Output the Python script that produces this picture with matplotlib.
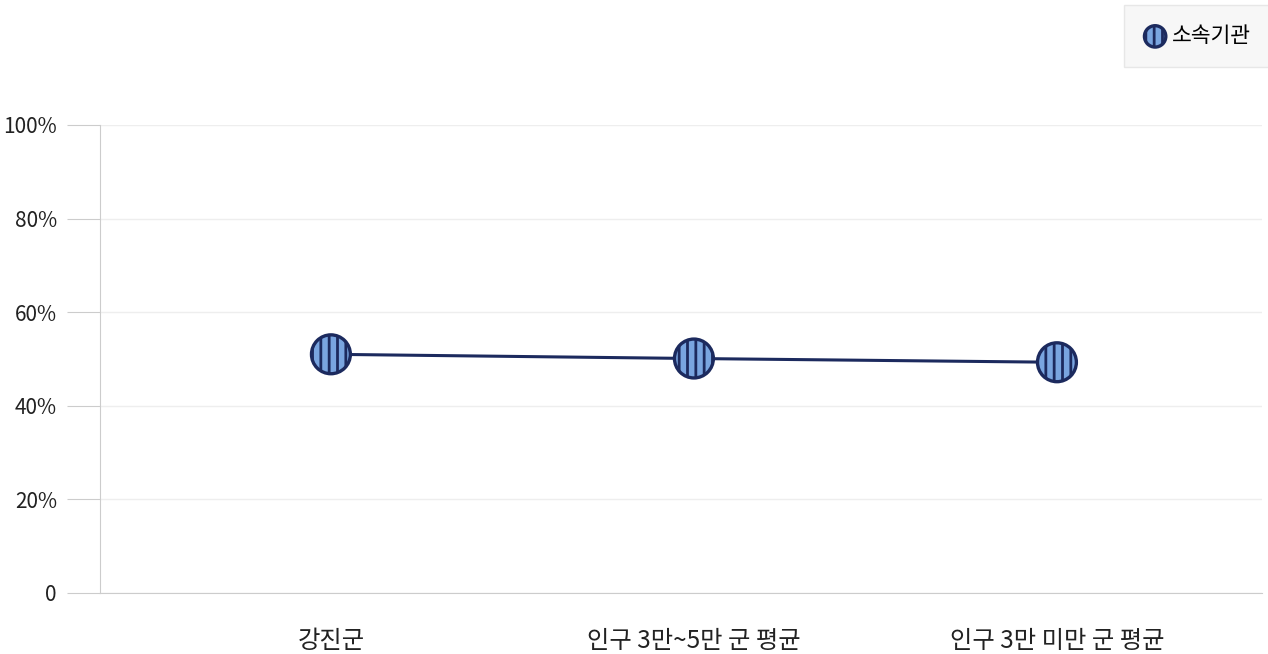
import matplotlib
matplotlib.use("Agg")
import matplotlib.pyplot as plt
import numpy as np

plt.rcParams['font.family'] = ['Noto Sans CJK KR', 'DejaVu Sans']
plt.rcParams['hatch.linewidth'] = 2.0

categories = ['강진군', '인구 3만~5만 군 평균', '인구 3만 미만 군 평균']
values = [51.0, 50.1, 49.3]
series_name = '소속기관'
y_ticks = [0, 20, 40, 60, 80, 100]
y_labels = ['0', '20%', '40%', '60%', '80%', '100%']

navy = '#1c2a5e'
fill = '#79a5e0'

fig = plt.figure(figsize=(12.68, 6.54), dpi=100)
ax = fig.add_axes([0.0789, 0.0933, 0.9164, 0.7156])

x = np.arange(len(categories))
ax.plot(x, values, color=navy, lw=2.2, zorder=3)
sc = ax.scatter(x, values, s=28**2, facecolor=fill, edgecolor=navy,
                linewidth=2.4, hatch='||', zorder=4, label=series_name)

ax.set_xlim(-0.636, 2.565)
ax.set_ylim(0, 100)
ax.set_yticks(y_ticks)
ax.set_yticklabels(y_labels, fontsize=15, color='#222222')
ax.set_xticks(x)
ax.set_xticklabels(categories, fontsize=17.5, color='#222222')
ax.tick_params(axis='x', length=0, pad=25)
ax.tick_params(axis='y', length=24, color='#cccccc', pad=7)
ax.grid(axis='y', color='#eeeeee', lw=1)
ax.set_axisbelow(True)
for s in ['top', 'right']:
    ax.spines[s].set_visible(False)
for s in ['left', 'bottom']:
    ax.spines[s].set_color('#cccccc')

leg = fig.legend(handles=[sc], loc='upper right', bbox_to_anchor=(1.003, 0.993),
                 fontsize=15.5, frameon=True, fancybox=False, markerscale=0.55,
                 handletextpad=0.3, borderpad=0.95, handlelength=1.0,
                 borderaxespad=0)
leg.get_frame().set_facecolor('#f5f5f5')
leg.get_frame().set_edgecolor('#e2e2e2')

fig.savefig('out.png', dpi=100)
